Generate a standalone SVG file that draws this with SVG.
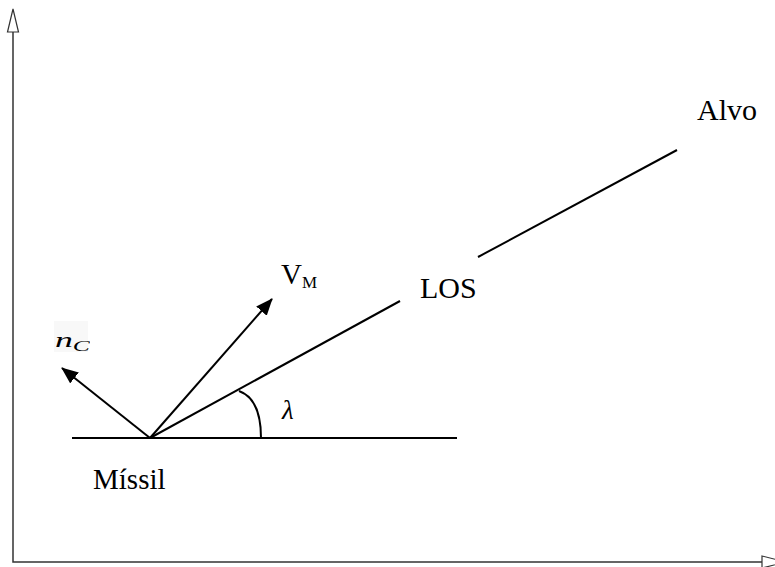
<svg xmlns="http://www.w3.org/2000/svg" width="775" height="567" viewBox="0 0 775 567">
<style>
.ax{stroke:#333;stroke-width:1.5;fill:none}
.axh{stroke:#333;stroke-width:1.2;fill:#fff}
.ln{stroke:#000;stroke-width:2;fill:none}
.t{font-family:"Times New Roman","Liberation Serif",Tinos,"DejaVu Serif",serif;fill:#000}
</style>
<defs>
<marker id="ah" markerUnits="userSpaceOnUse" markerWidth="18" markerHeight="16" refX="16" refY="7" orient="auto">
<path d="M0,0 L17,7 L0,14 Z" fill="#000"/>
</marker>
<clipPath id="ncclip"><rect x="50" y="320" width="40" height="33"/></clipPath>
</defs>
<rect width="775" height="567" fill="#fff"/>
<g id="axes">
<path class="ax" d="M13,32 L13,562 L762,562"/>
<polygon class="axh" points="13,9 18.5,32 7.5,32"/>
<polygon class="axh" points="762,556 786,562 762,568"/>
</g>
<g id="connectors">
<line class="ln" x1="72" y1="438" x2="457" y2="438"/>
<line class="ln" x1="150" y1="438" x2="400" y2="301"/>
<line class="ln" x1="478" y1="257" x2="677" y2="150"/>
<line class="ln" x1="150" y1="438" x2="62" y2="368" marker-end="url(#ah)"/>
<line class="ln" x1="150" y1="438" x2="272" y2="299" marker-end="url(#ah)"/>
<path class="ln" d="M239,391 C253,396 261,410 261,438"/>
</g>
<g id="missil"><text class="t" x="93" y="489" font-size="29">Míssil</text></g>
<g id="alvo"><text class="t" x="697" y="120" font-size="30">Alvo</text></g>
<g id="los"><text class="t" x="420" y="298" font-size="30">LOS</text></g>
<g id="vm"><text class="t" x="281" y="284" font-size="29">V<tspan font-size="17" dy="4">M</tspan></text></g>
<g id="nc">
<rect x="54" y="321" width="34" height="31" fill="#f8f8f8"/>
<g clip-path="url(#ncclip)">
<text class="t" transform="translate(55,347) scale(1.7,1)" font-size="21" font-style="italic">n<tspan font-size="15" dy="4">C</tspan></text>
</g>
</g>
<g id="lambda"><text class="t" x="282" y="419" font-size="27" font-style="italic">λ</text></g>
</svg>
